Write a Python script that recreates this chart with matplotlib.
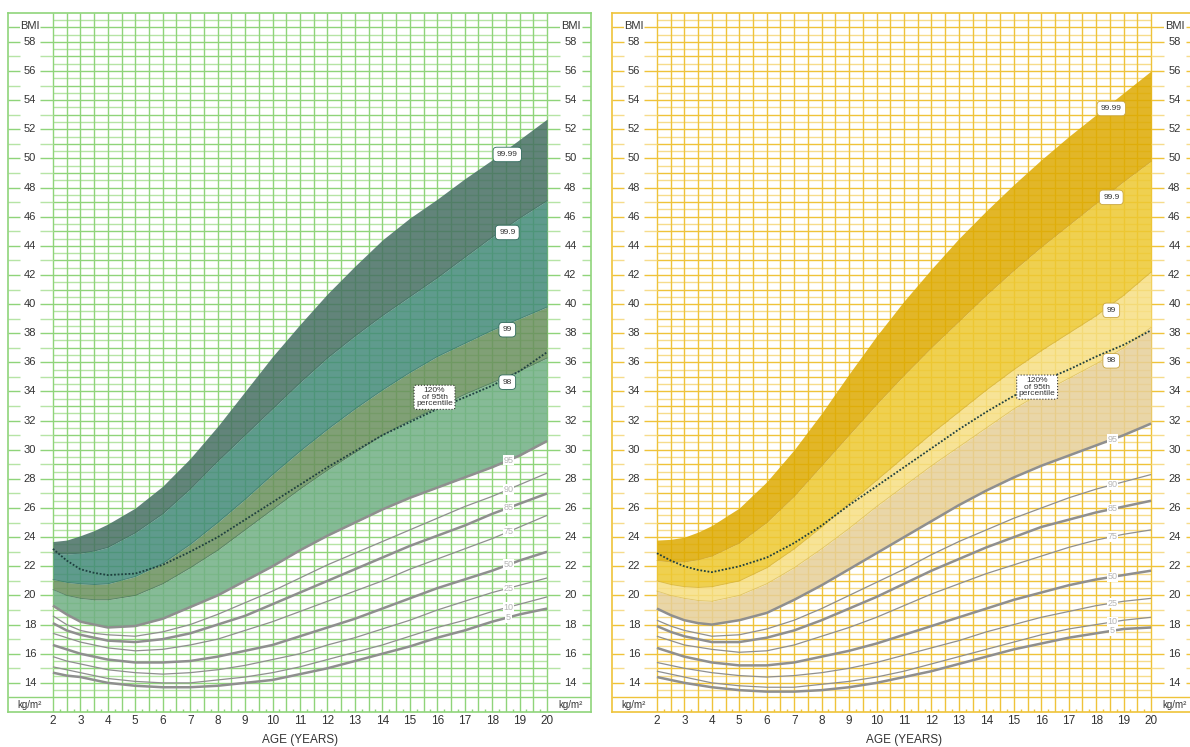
import numpy as np
import matplotlib.pyplot as plt

plt.rcParams['font.family'] = ['Liberation Sans', 'DejaVu Sans']

# ages of the read-off points (years)
ages = [2, 2.5, 3, 3.5, 4, 5, 6, 7, 8, 9, 10, 11, 12, 13, 14, 15, 16, 17, 18, 19, 20]
pct_names = ['5', '10', '25', '50', '75', '85', '90', '95']
thick_pcts = ['5', '50', '85', '95']
ext_names = ['98', '99', '99.9', '99.99']

# boys, left chart
boys_pct = {
    '5':  [14.7, 14.5, 14.4, 14.2, 14.0, 13.8, 13.7, 13.7, 13.8, 14.0, 14.2, 14.6, 15.0, 15.5, 16.0, 16.5, 17.1, 17.6, 18.2, 18.7, 19.1],
    '10': [15.1, 14.9, 14.7, 14.5, 14.3, 14.1, 14.0, 14.0, 14.2, 14.4, 14.7, 15.1, 15.6, 16.1, 16.6, 17.2, 17.8, 18.3, 18.9, 19.4, 19.9],
    '25': [15.8, 15.5, 15.3, 15.1, 14.9, 14.7, 14.6, 14.7, 14.9, 15.2, 15.6, 16.0, 16.6, 17.1, 17.7, 18.3, 19.0, 19.6, 20.2, 20.7, 21.2],
    '50': [16.6, 16.3, 16.0, 15.8, 15.6, 15.4, 15.4, 15.5, 15.8, 16.2, 16.6, 17.2, 17.8, 18.4, 19.1, 19.8, 20.5, 21.1, 21.7, 22.4, 23.0],
    '75': [17.4, 17.1, 16.8, 16.6, 16.4, 16.2, 16.3, 16.6, 17.0, 17.6, 18.2, 18.9, 19.6, 20.3, 21.0, 21.8, 22.5, 23.2, 23.9, 24.7, 25.5],
    '85': [18.1, 17.6, 17.3, 17.1, 16.9, 16.8, 17.0, 17.4, 18.0, 18.6, 19.4, 20.2, 21.0, 21.8, 22.6, 23.4, 24.1, 24.8, 25.6, 26.3, 27.0],
    '90': [18.6, 18.0, 17.6, 17.4, 17.3, 17.2, 17.5, 18.0, 18.7, 19.5, 20.3, 21.2, 22.1, 22.9, 23.7, 24.5, 25.3, 26.1, 26.8, 27.6, 28.4],
    '95': [19.3, 18.7, 18.2, 18.0, 17.8, 17.9, 18.4, 19.2, 20.0, 21.0, 22.0, 23.1, 24.1, 25.0, 25.9, 26.7, 27.4, 28.1, 28.8, 29.6, 30.6],
}
boys_ext = {
    '98':    [20.4, 20.0, 19.8, 19.7, 19.7, 20.0, 20.8, 21.9, 23.1, 24.5, 25.9, 27.3, 28.6, 29.8, 31.0, 32.0, 32.9, 33.8, 34.6, 35.4, 36.3],
    '99':    [21.1, 20.9, 20.8, 20.75, 20.8, 21.3, 22.2, 23.5, 25.0, 26.6, 28.3, 29.9, 31.4, 32.8, 34.1, 35.3, 36.4, 37.3, 38.2, 39.0, 39.8],
    '99.9':  [22.9, 22.85, 22.9, 23.05, 23.3, 24.3, 25.6, 27.3, 29.2, 31.0, 32.8, 34.6, 36.3, 37.8, 39.2, 40.5, 41.8, 43.2, 44.6, 45.9, 47.1],
    '99.99': [23.7, 23.8, 24.1, 24.45, 24.9, 26.0, 27.5, 29.4, 31.6, 34.0, 36.4, 38.6, 40.7, 42.6, 44.4, 45.9, 47.2, 48.6, 49.9, 51.3, 52.7],
}
boys_120 = [23.2, 22.4, 21.8, 21.55, 21.4, 21.5, 22.1, 23.0, 24.0, 25.2, 26.4, 27.6, 28.8, 29.9, 31.0, 31.9, 32.8, 33.6, 34.4, 35.4, 36.7]

# girls, right chart
girls_pct = {
    '5':  [14.4, 14.2, 14.0, 13.85, 13.7, 13.5, 13.4, 13.4, 13.5, 13.7, 14.0, 14.4, 14.8, 15.3, 15.8, 16.3, 16.7, 17.1, 17.4, 17.7, 17.8],
    '10': [14.8, 14.6, 14.4, 14.2, 14.0, 13.8, 13.7, 13.7, 13.9, 14.1, 14.4, 14.8, 15.3, 15.8, 16.3, 16.8, 17.3, 17.7, 18.0, 18.3, 18.5],
    '25': [15.4, 15.2, 15.0, 14.85, 14.7, 14.5, 14.4, 14.5, 14.7, 15.0, 15.4, 15.9, 16.4, 16.9, 17.5, 18.0, 18.5, 18.9, 19.3, 19.6, 19.8],
    '50': [16.4, 16.1, 15.8, 15.6, 15.4, 15.2, 15.2, 15.4, 15.8, 16.2, 16.7, 17.3, 17.9, 18.5, 19.1, 19.7, 20.2, 20.7, 21.1, 21.4, 21.7],
    '75': [17.2, 16.9, 16.6, 16.45, 16.3, 16.1, 16.2, 16.6, 17.2, 17.8, 18.5, 19.3, 20.1, 20.8, 21.5, 22.1, 22.7, 23.3, 23.8, 24.2, 24.5],
    '85': [17.9, 17.5, 17.2, 17.0, 16.8, 16.8, 17.1, 17.6, 18.3, 19.1, 19.9, 20.8, 21.7, 22.5, 23.3, 24.0, 24.7, 25.2, 25.7, 26.1, 26.5],
    '90': [18.3, 17.9, 17.6, 17.4, 17.2, 17.3, 17.7, 18.3, 19.1, 20.0, 20.9, 21.8, 22.8, 23.7, 24.5, 25.3, 26.0, 26.7, 27.3, 27.8, 28.3],
    '95': [19.1, 18.65, 18.3, 18.1, 18.0, 18.3, 18.8, 19.7, 20.7, 21.8, 22.9, 24.0, 25.1, 26.2, 27.2, 28.1, 28.9, 29.6, 30.3, 31.0, 31.8],
}
girls_ext = {
    '98':    [20.3, 20.0, 19.8, 19.65, 19.6, 20.0, 20.8, 21.9, 23.2, 24.6, 26.1, 27.5, 28.9, 30.2, 31.5, 32.8, 33.9, 34.9, 35.9, 37.0, 38.4],
    '99':    [21.0, 20.75, 20.6, 20.55, 20.6, 21.0, 21.9, 23.2, 24.7, 26.3, 27.9, 29.5, 31.1, 32.6, 34.1, 35.5, 36.8, 38.0, 39.2, 40.6, 42.2],
    '99.9':  [22.4, 22.3, 22.3, 22.45, 22.7, 23.6, 25.0, 26.8, 28.9, 31.0, 33.1, 35.1, 37.0, 38.8, 40.6, 42.3, 43.9, 45.4, 46.9, 48.4, 49.8],
    '99.99': [23.8, 23.85, 24.0, 24.35, 24.8, 26.0, 27.8, 30.0, 32.5, 35.2, 37.8, 40.2, 42.4, 44.5, 46.4, 48.2, 49.9, 51.5, 53.0, 54.5, 56.0],
}
girls_120 = [22.9, 22.4, 22.0, 21.75, 21.6, 22.0, 22.6, 23.6, 24.8, 26.2, 27.5, 28.8, 30.1, 31.4, 32.6, 33.7, 34.7, 35.5, 36.4, 37.2, 38.2]

bmi_labels = list(range(14, 59, 2))
age_labels = list(range(2, 21))

XMIN, XMAX = 0.364, 21.6
YMIN, YMAX = 12, 60


def draw_panel(ax, pct, ext, p120, grid_dark, grid_light, band_cols, box_edge,
               label120_xy):
    ax.set_xlim(XMIN, XMAX)
    ax.set_ylim(YMIN, YMAX)
    ax.set_xticks([])
    ax.set_yticks([])
    for s in ax.spines.values():
        s.set_color(grid_dark)
        s.set_linewidth(1.2)

    # inner grid
    for v in np.arange(13, 60, 0.5):
        col = grid_dark if v % 1 == 0 else grid_light
        ax.hlines(v, 2, 20, color=col, lw=1.0, zorder=1)
    for a in np.arange(2, 20.01, 0.5):
        ax.vlines(a, YMIN, YMAX, color=grid_dark, lw=1.0, zorder=1)
    for a in np.arange(2.25, 20, 0.5):
        ax.vlines(a, YMIN, YMIN + 0.2, color=grid_dark, lw=1.0, zorder=1)

    # side strips
    for v in range(13, 60):
        if v == 13:
            ax.hlines(v, XMIN, 2, color=grid_dark, lw=1.0)
            ax.hlines(v, 20, XMAX, color=grid_dark, lw=1.0)
            continue
        col = grid_dark if v % 2 == 0 or v == 59 else grid_light
        ax.hlines(v, XMIN, 0.80, color=col, lw=1.0)
        ax.hlines(v, 1.53, 2, color=col, lw=1.0)
        ax.hlines(v, 20, 20.47, color=col, lw=1.0)
        ax.hlines(v, 21.27, XMAX, color=col, lw=1.0)
    for v in bmi_labels:
        ax.text(1.16, v, str(v), ha='center', va='center', fontsize=8, color='#333333')
        ax.text(20.85, v, str(v), ha='center', va='center', fontsize=8, color='#333333')
    for xx in (1.16, 20.85):
        ax.text(xx, 59.1, 'BMI', ha='center', va='center', fontsize=8, color='#333333',
                bbox=dict(fc='white', ec='none', pad=0.3))
        ax.text(xx, 12.5, 'kg/m²', ha='center', va='center', fontsize=7, color='#333333')

    # bottom axis text
    for a in age_labels:
        ax.text(a, 11.4, str(a), ha='center', va='center', fontsize=8.5, color='#333333')
    ax.text(11, 10.1, 'AGE (YEARS)', ha='center', va='center', fontsize=8.5, color='#333333')

    # bands
    bounds = [pct['95']] + [ext[k] for k in ext_names]
    for lo, hi, c in zip(bounds[:-1], bounds[1:], band_cols):
        ax.fill_between(ages, lo, hi, color=c, alpha=0.85, lw=0, zorder=2)
    for k in ext_names[:3]:
        ax.plot(ages, ext[k], color=box_edge, lw=0.6, alpha=0.5, zorder=2.5)

    # percentile curves
    for k in pct_names:
        lw = 1.8 if k in thick_pcts else 0.9
        ax.plot(ages, pct[k], color='#8f8f8f', lw=lw, zorder=3,
                solid_capstyle='butt', solid_joinstyle='round')
        y = np.interp(18.6, ages, pct[k])
        ax.text(18.6, y, k, ha='center', va='center', fontsize=6.5, color='#b5b5b5',
                zorder=5, bbox=dict(fc='white', ec='none', pad=0.5))

    ax.plot(ages, p120, color='#1e3f3f', lw=1.3, ls=(0, (1, 1)), zorder=4)

    for k in ext_names:
        y = np.interp(18.55, ages, ext[k]) - 0.4
        ax.text(18.55, y, k, ha='center', va='center', fontsize=6, color='#333333',
                zorder=6, bbox=dict(boxstyle='round,pad=0.45', fc='white', ec=box_edge, lw=0.6))

    ax.text(label120_xy[0], label120_xy[1], '120%\nof 95th\npercentile', ha='center',
            va='center', fontsize=6, color='#333333', linespacing=0.9, zorder=6,
            bbox=dict(boxstyle='round,pad=0.25', fc='white', ec='#333333', ls=':', lw=0.8))


fig = plt.figure(figsize=(11.9, 7.47), dpi=100)
ax1 = fig.add_axes([8 / 1190, 35 / 747, 583 / 1190, 699.3 / 747])
ax2 = fig.add_axes([612 / 1190, 35 / 747, 583 / 1190, 699.3 / 747])

draw_panel(ax1, boys_pct, boys_ext, boys_120, '#8fd47a', '#b6e4a5',
           ['#71af85', '#6a8f5e', '#438a79', '#466f63'], '#2f6a5c', (15.9, 33.6))
draw_panel(ax2, girls_pct, girls_ext, girls_120, '#efc33a', '#f6dc8c',
           ['#e6cf99', '#f6df84', '#edc831', '#ddaa02'], '#c9a640', (15.85, 34.3))

fig.savefig('out.png', dpi=100)
